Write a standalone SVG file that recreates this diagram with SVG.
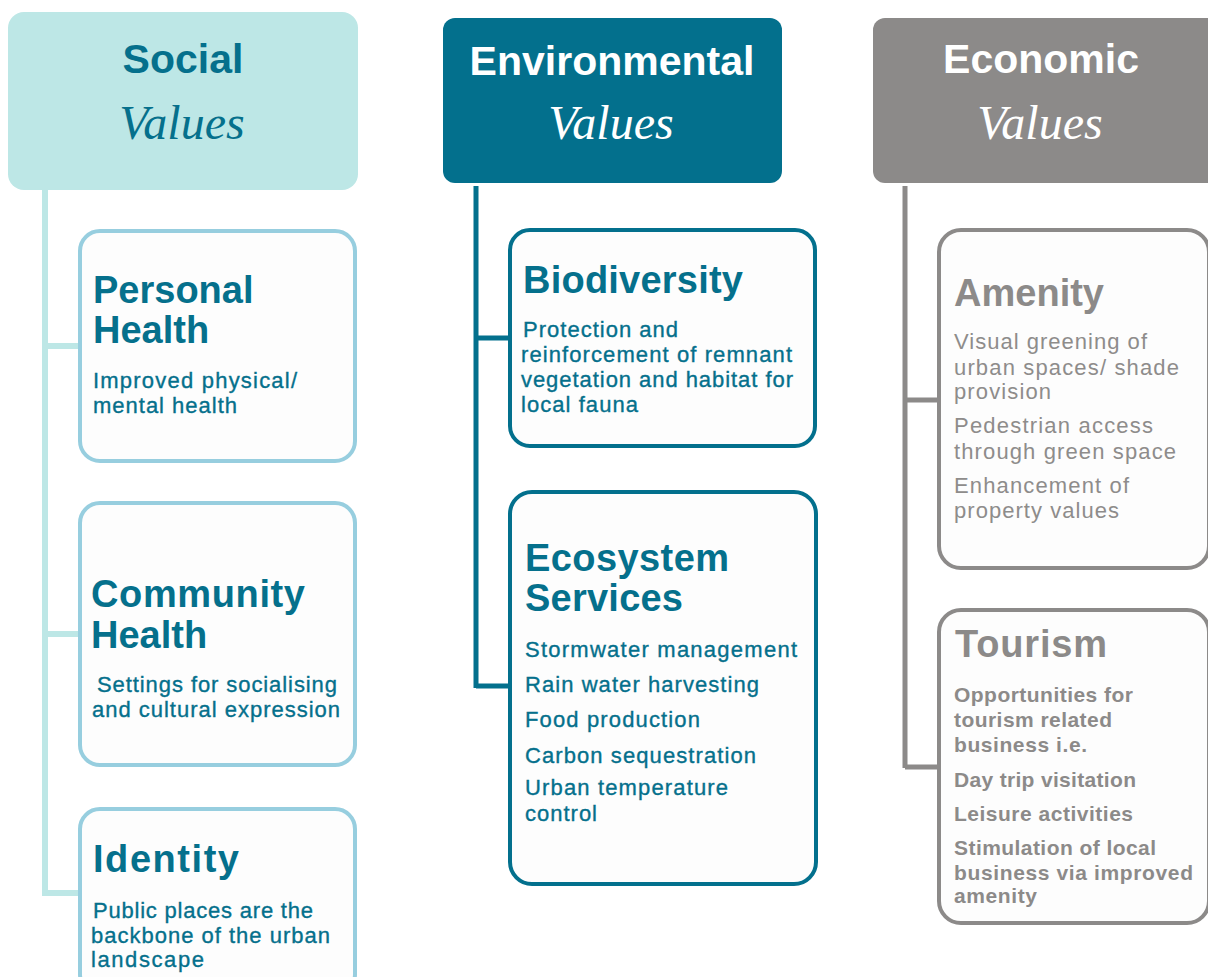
<svg xmlns="http://www.w3.org/2000/svg" width="1208" height="977" viewBox="0 0 1208 977">
<style>
.hdr{font-family:"Liberation Sans",Arial,sans-serif;font-weight:bold;font-size:41px;text-anchor:middle}
.val{font-family:"Liberation Serif","DejaVu Serif",serif;font-style:italic;font-size:48px;text-anchor:middle}
.ttl{font-family:"Liberation Sans",Arial,sans-serif;font-weight:bold;font-size:38px}
.body{font-family:"Liberation Sans",Arial,sans-serif;font-size:22px;stroke-width:0.35}
.ebody{font-family:"Liberation Sans",Arial,sans-serif;font-size:22px}
.tbody{font-family:"Liberation Sans",Arial,sans-serif;font-size:21px;font-weight:bold}
.teal{fill:#05708C}
.tealS{fill:#05708C;stroke:#05708C}
.gray{fill:#8C8A89}
.box{fill:#FDFDFD;stroke-width:4}
.soc{stroke:#97CEDF}
.env{stroke:#03708D}
.eco{stroke:#8C8A89}
.conn{fill:none;stroke-linejoin:miter;stroke-linecap:butt}
</style>

<g id="connectors">
  <path class="conn" d="M45 188 V896 M45 346 H80 M45 634 H80 M45 893 H80" stroke="#BDE7E6" stroke-width="6"/>
  <path class="conn" d="M476 186 V688 M476 338 H510 M476 686 H510" stroke="#03708D" stroke-width="5"/>
  <path class="conn" d="M905 186 V768 M905 400 H939 M905 767 H939" stroke="#8C8A89" stroke-width="5"/>
</g>

<g id="social-header">
  <rect x="8" y="12" width="350" height="178" rx="16" fill="#BDE7E6"/>
  <text class="hdr teal" x="183" y="73">Social</text>
  <text class="val teal" x="182" y="139">Values</text>
</g>

<g id="environmental-header">
  <rect x="443" y="18" width="339" height="165" rx="12" fill="#03708D"/>
  <text class="hdr" x="612" y="75" fill="#FFFFFF">Environmental</text>
  <text class="val" x="611" y="139" fill="#FFFFFF">Values</text>
</g>

<g id="economic-header">
  <rect x="873" y="18" width="350" height="165" rx="12" fill="#8C8A89"/>
  <text class="hdr" x="1041" y="73" fill="#FFFFFF">Economic</text>
  <text class="val" x="1040" y="139" fill="#FFFFFF">Values</text>
</g>

<g id="personal-health">
  <rect class="box soc" x="80" y="231" width="275" height="230" rx="20"/>
  <text class="ttl teal" x="93" y="303">Personal</text>
  <text class="ttl teal" x="93" y="343">Health</text>
  <text class="body tealS" x="93" y="388" textLength="204" lengthAdjust="spacing">Improved physical/</text>
  <text class="body tealS" x="93" y="413" textLength="144" lengthAdjust="spacing">mental health</text>
</g>

<g id="community-health">
  <rect class="box soc" x="80" y="503" width="275" height="262" rx="20"/>
  <text class="ttl teal" x="91" y="607" textLength="214" lengthAdjust="spacing">Community</text>
  <text class="ttl teal" x="91" y="648">Health</text>
  <text class="body tealS" x="97" y="692" textLength="240" lengthAdjust="spacing">Settings for socialising</text>
  <text class="body tealS" x="92" y="717" textLength="248" lengthAdjust="spacing">and cultural expression</text>
</g>

<g id="identity">
  <rect class="box soc" x="80" y="809" width="275" height="185" rx="20"/>
  <text class="ttl teal" x="93" y="872" textLength="146" lengthAdjust="spacing">Identity</text>
  <text class="body tealS" x="93" y="918" textLength="220" lengthAdjust="spacing">Public places are the</text>
  <text class="body tealS" x="91" y="943" textLength="239" lengthAdjust="spacing">backbone of the urban</text>
  <text class="body tealS" x="91" y="967" textLength="113" lengthAdjust="spacing">landscape</text>
</g>

<g id="biodiversity">
  <rect class="box env" x="510" y="230" width="305" height="216" rx="20"/>
  <text class="ttl teal" x="523" y="293" textLength="220" lengthAdjust="spacing">Biodiversity</text>
  <text class="body tealS" x="523" y="337" textLength="155" lengthAdjust="spacing">Protection and</text>
  <text class="body tealS" x="521" y="362" textLength="271" lengthAdjust="spacing">reinforcement of remnant</text>
  <text class="body tealS" x="521" y="387" textLength="272" lengthAdjust="spacing">vegetation and habitat for</text>
  <text class="body tealS" x="521" y="412" textLength="117" lengthAdjust="spacing">local fauna</text>
</g>

<g id="ecosystem-services">
  <rect class="box env" x="510" y="492" width="306" height="392" rx="22"/>
  <text class="ttl teal" x="525" y="571" textLength="204" lengthAdjust="spacing">Ecosystem</text>
  <text class="ttl teal" x="525" y="611" textLength="158" lengthAdjust="spacing">Services</text>
  <text class="body tealS" x="525" y="657" textLength="272" lengthAdjust="spacing">Stormwater management</text>
  <text class="body tealS" x="525" y="692" textLength="234" lengthAdjust="spacing">Rain water harvesting</text>
  <text class="body tealS" x="525" y="727" textLength="175" lengthAdjust="spacing">Food production</text>
  <text class="body tealS" x="525" y="763" textLength="231" lengthAdjust="spacing">Carbon sequestration</text>
  <text class="body tealS" x="525" y="795" textLength="203" lengthAdjust="spacing">Urban temperature</text>
  <text class="body tealS" x="525" y="821" textLength="72" lengthAdjust="spacing">control</text>
</g>

<g id="amenity">
  <rect class="box eco" x="939" y="230" width="270" height="338" rx="22"/>
  <text class="ttl gray" x="954" y="306" textLength="150" lengthAdjust="spacing">Amenity</text>
  <text class="ebody" fill="#8E8C8B" x="954" y="349" textLength="193" lengthAdjust="spacing">Visual greening of</text>
  <text class="ebody" fill="#8E8C8B" x="954" y="375" textLength="225" lengthAdjust="spacing">urban spaces/ shade</text>
  <text class="ebody" fill="#8E8C8B" x="954" y="399" textLength="97" lengthAdjust="spacing">provision</text>
  <text class="ebody" fill="#8E8C8B" x="954" y="433" textLength="199" lengthAdjust="spacing">Pedestrian access</text>
  <text class="ebody" fill="#8E8C8B" x="954" y="459" textLength="222" lengthAdjust="spacing">through green space</text>
  <text class="ebody" fill="#8E8C8B" x="954" y="493" textLength="175" lengthAdjust="spacing">Enhancement of</text>
  <text class="ebody" fill="#8E8C8B" x="954" y="518" textLength="165" lengthAdjust="spacing">property values</text>
</g>

<g id="tourism">
  <rect class="box eco" x="939" y="610" width="270" height="313" rx="22"/>
  <text class="ttl gray" x="955" y="657" textLength="152" lengthAdjust="spacing">Tourism</text>
  <text class="tbody gray" x="954" y="702" textLength="179" lengthAdjust="spacing">Opportunities for</text>
  <text class="tbody gray" x="954" y="727" textLength="158" lengthAdjust="spacing">tourism related</text>
  <text class="tbody gray" x="954" y="752" textLength="133" lengthAdjust="spacing">business i.e.</text>
  <text class="tbody gray" x="954" y="787" textLength="182" lengthAdjust="spacing">Day trip visitation</text>
  <text class="tbody gray" x="954" y="821" textLength="179" lengthAdjust="spacing">Leisure activities</text>
  <text class="tbody gray" x="954" y="855" textLength="202" lengthAdjust="spacing">Stimulation of local</text>
  <text class="tbody gray" x="954" y="880" textLength="239" lengthAdjust="spacing">business via improved</text>
  <text class="tbody gray" x="954" y="903" textLength="83" lengthAdjust="spacing">amenity</text>
</g>
</svg>
